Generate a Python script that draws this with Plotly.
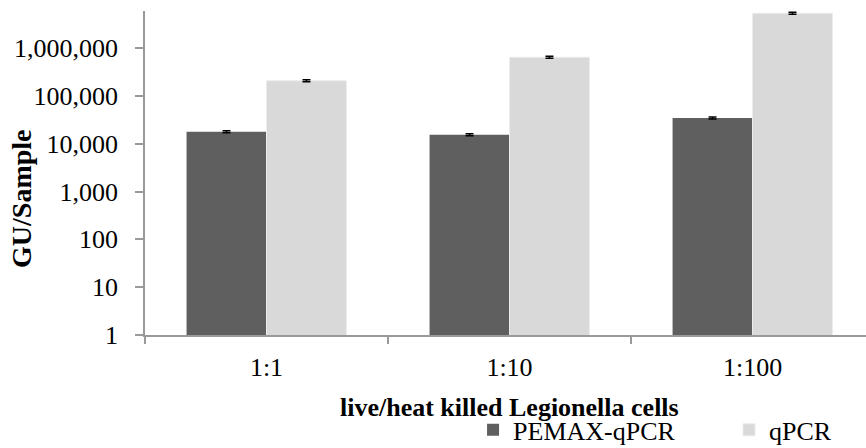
import plotly.graph_objects as go

# Genome units per sample for each live/heat-killed mixing ratio
ratios = ["1:1", "1:10", "1:100"]
pemax_qpcr = [17800, 15400, 34400]
pemax_err = [900, 800, 1700]
qpcr = [207000, 640000, 5320000]
qpcr_err = [11000, 32000, 260000]

y_tickvals = [1, 10, 100, 1000, 10000, 100000, 1000000]
y_ticktext = ["1", "10", "100", "1,000", "10,000", "100,000", "1,000,000"]

FONT = "Times New Roman, Liberation Serif, serif"
AXIS_GREY = "#9a9a9a"

fig = go.Figure()
fig.add_trace(go.Bar(
    name="PEMAX-qPCR", x=ratios, y=pemax_qpcr, legend="legend",
    marker=dict(color="#5f5f5f", line=dict(width=0)),
    error_y=dict(type="data", array=pemax_err, color="black", thickness=1.5, width=4),
))
fig.add_trace(go.Bar(
    name="qPCR", x=ratios, y=qpcr, legend="legend2",
    marker=dict(color="#d9d9d9", line=dict(width=1, color="#ececec")),
    error_y=dict(type="data", array=qpcr_err, color="black", thickness=1.5, width=4),
))

legend_style = dict(
    orientation="h", yanchor="middle", xanchor="left",
    font=dict(family=FONT, size=26, color="black"),
    itemwidth=30, bgcolor="rgba(0,0,0,0)", borderwidth=0,
)

fig.update_layout(
    width=866, height=448,
    margin=dict(l=145, r=0, t=11, b=113, autoexpand=False),
    paper_bgcolor="white", plot_bgcolor="white",
    font=dict(family=FONT, size=26, color="black"),
    barmode="group", bargap=0.342, bargroupgap=0,
    showlegend=True,
    legend=dict(x=0.455, y=-0.293, **legend_style),
    legend2=dict(x=0.81, y=-0.293, **legend_style),
    xaxis=dict(
        type="category", range=[-0.5, 2.467],
        showline=True, linecolor=AXIS_GREY, linewidth=1.5,
        ticks="outside", tickson="boundaries", ticklen=7, tickcolor=AXIS_GREY, tickwidth=1.5,
        tickfont=dict(family=FONT, size=26), ticklabelstandoff=8,
        showgrid=False, zeroline=False,
    ),
    yaxis=dict(
        type="log", range=[0, 6.774],
        tickvals=y_tickvals, ticktext=y_ticktext,
        showline=True, linecolor=AXIS_GREY, linewidth=1.5,
        ticks="outside", ticklen=8, tickcolor=AXIS_GREY, tickwidth=1.5,
        tickfont=dict(family=FONT, size=26), ticklabelstandoff=12,
        showgrid=False, zeroline=False,
    ),
    annotations=[
        dict(text="<b>live/heat killed Legionella cells</b>", xref="paper", yref="paper",
             x=0.505, y=-0.225, xanchor="center", yanchor="middle", showarrow=False,
             font=dict(family=FONT, size=26, color="black")),
        dict(text="<b>GU/Sample</b>", xref="paper", yref="paper", textangle=-90,
             x=-0.1706, y=0.42, xanchor="center", yanchor="middle", showarrow=False,
             font=dict(family=FONT, size=28, color="black")),
    ],
)

fig.write_html("out.html")
